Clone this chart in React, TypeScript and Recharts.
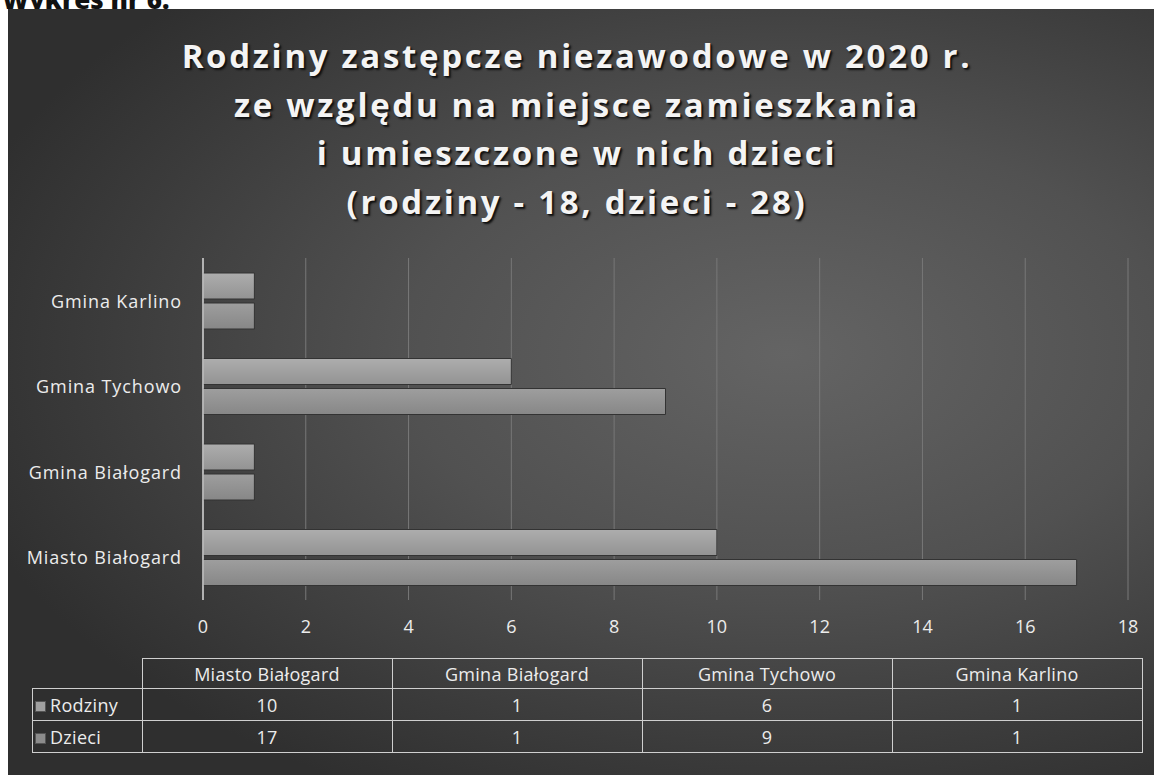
import React from "react";
import { BarChart, Bar, XAxis, YAxis, CartesianGrid } from "recharts";

const categories = ["Miasto Białogard", "Gmina Białogard", "Gmina Tychowo", "Gmina Karlino"];
const rodziny = [10, 1, 6, 1];
const dzieci = [17, 1, 9, 1];
const xTicks = [0, 2, 4, 6, 8, 10, 12, 14, 16, 18];
const titleLines = [
  "Rodziny zastępcze niezawodowe w 2020 r.",
  "ze względu na miejsce zamieszkania",
  "i umieszczone w nich dzieci",
  "(rodziny - 18, dzieci - 28)",
];
const seriesNames = ["Rodziny", "Dzieci"];

const data = categories.map((c, i) => ({ name: c, Rodziny: rodziny[i], Dzieci: dzieci[i] }));

const FONT = "'Open Sans', Lato, sans-serif";
const TEXT = "#ececec";

const YTick = (props: any) => {
  const { x, y, payload } = props;
  return (
    <text x={x} y={y} textAnchor="end" dominantBaseline="central" fill={TEXT} fontSize={18} fontFamily={FONT} style={{ letterSpacing: "0.9px" }}>
      {payload.value}
    </text>
  );
};

const XTick = (props: any) => {
  const { x, y, payload } = props;
  return (
    <text x={x} y={y} dy={12} textAnchor="middle" dominantBaseline="central" fill={TEXT} fontSize={18} fontFamily={FONT}>
      {payload.value}
    </text>
  );
};

export default function App() {
  const rows = [rodziny, dzieci];
  return (
    <div style={{ position: "absolute", left: 0, top: 0, width: 1154, height: 782, background: "#fff", overflow: "hidden", fontFamily: FONT }}>
      <div style={{ position: "absolute", left: 2, top: -19, fontSize: 26, fontWeight: 800, color: "#111", fontFamily: FONT }}>
        Wykres nr 6.
      </div>
      <div
        style={{
          position: "absolute",
          left: 8,
          top: 9,
          width: 1146,
          height: 766,
          background: "radial-gradient(ellipse 75% 65% at 68% 45%, #646464 0%, #515151 45%, #3b3b3b 80%, #2f2f2f 100%)",
        }}
      />
      <div style={{ position: "absolute", left: 0, top: 32, width: 1154, textAlign: "center" }}>
        {titleLines.map((t, i) => (
          <div
            key={i}
            style={{
              fontSize: 33,
              fontWeight: 700,
              lineHeight: "48.5px",
              color: "#f4f4f4",
              letterSpacing: 2.7,
              textShadow: "2px 2px 2px #111, 1px 1px 0 #222",
            }}
          >
            {t}
          </div>
        ))}
      </div>
      <div style={{ position: "absolute", left: 0, top: 0 }}>
        <BarChart
          width={1154}
          height={782}
          data={data}
          layout="vertical"
          margin={{ top: 258, right: 26, bottom: 142, left: 8 }}
          barSize={26}
          barGap={4}
        >
          <defs>
            <linearGradient id="gR" x1="0" y1="0" x2="0" y2="1">
              <stop offset="0%" stopColor="#adadad" />
              <stop offset="100%" stopColor="#939393" />
            </linearGradient>
            <linearGradient id="gD" x1="0" y1="0" x2="0" y2="1">
              <stop offset="0%" stopColor="#9e9e9e" />
              <stop offset="100%" stopColor="#878787" />
            </linearGradient>
          </defs>
          <CartesianGrid horizontal={false} vertical={true} stroke="#787878" strokeWidth={1} />
          <XAxis
            type="number"
            domain={[0, 18]}
            ticks={xTicks}
            axisLine={false}
            tickLine={false}
            tickMargin={8}
            height={40}
            tick={<XTick />}
          />
          <YAxis
            type="category"
            dataKey="name"
            reversed
            width={195}
            axisLine={{ stroke: "#cfcfcf", strokeWidth: 1.5 }}
            tickLine={false}
            tickMargin={15}
            tick={<YTick />}
          />
          <Bar dataKey="Rodziny" name={seriesNames[0]} fill="url(#gR)" stroke="#333" strokeWidth={1} isAnimationActive={false} />
          <Bar dataKey="Dzieci" name={seriesNames[1]} fill="url(#gD)" stroke="#333" strokeWidth={1} isAnimationActive={false} />
        </BarChart>
      </div>
      <table
        style={{
          position: "absolute",
          left: 32,
          top: 658,
          borderCollapse: "collapse",
          color: TEXT,
          fontSize: 18,
          letterSpacing: 0.3,
          fontFamily: FONT,
        }}
      >
        <tbody>
          <tr style={{ height: 30 }}>
            <td style={{ width: 107, border: "none" }}></td>
            {categories.map((c) => (
              <td key={c} style={{ width: 249, border: "1.5px solid #cfcfcf", textAlign: "center", padding: 0 }}>
                {c}
              </td>
            ))}
          </tr>
          {rows.map((r, ri) => (
            <tr key={ri} style={{ height: 32 }}>
              <td style={{ border: "1.5px solid #cfcfcf", padding: "0 2px", whiteSpace: "nowrap" }}>
                <span style={{ display: "inline-block", width: 9, height: 9, background: ri === 0 ? "#a0a0a0" : "#8c8c8c", marginRight: 4, border: "1px solid #555" }} />
                {seriesNames[ri]}
              </td>
              {r.map((v, i) => (
                <td key={i} style={{ border: "1.5px solid #cfcfcf", textAlign: "center", padding: 0 }}>
                  {v}
                </td>
              ))}
            </tr>
          ))}
        </tbody>
      </table>
    </div>
  );
}
